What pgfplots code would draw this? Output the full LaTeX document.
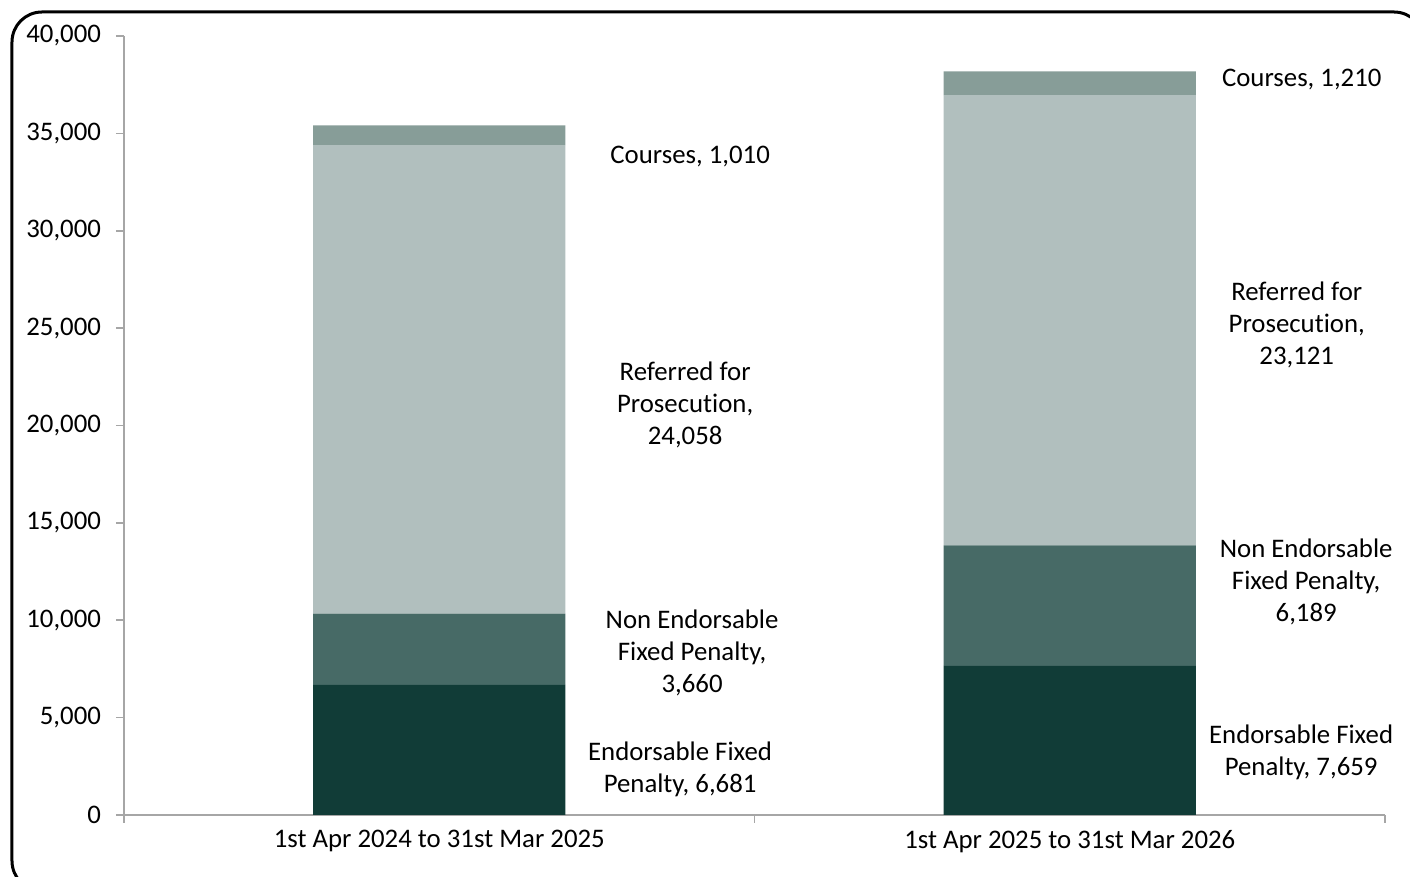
\documentclass[border=0pt]{standalone}
\usepackage{fontspec}
\setmainfont{Carlito}[Ligatures=NoCommon]
\usepackage{pgfplots}
\pgfplotsset{compat=1.18}

\definecolor{endorse}{HTML}{113C37}
\definecolor{nonendorse}{HTML}{476A66}
\definecolor{referred}{HTML}{B1BFBE}
\definecolor{courses}{HTML}{879D98}
\definecolor{axisgray}{HTML}{A6A6A6}

\begin{document}
\begin{tikzpicture}[font=\fontsize{13.4}{16}\selectfont]
  % page = 1410 x 877 px at 0.5pt per px, axis box lower-left at px (124,815)
  \useasboundingbox (-62pt,-31pt) rectangle (643pt,407.5pt);
  \draw[line width=1.5pt, rounded corners=15pt] (-56pt,-38pt) rectangle (650pt,401.5pt);
  \begin{axis}[
      at={(0pt,0pt)}, anchor=south west,
      scale only axis, width=630.5pt, height=389.5pt,
      ybar stacked, bar width=0.4,
      xmin=-0.5, xmax=1.5, ymin=0, ymax=40000,
      axis x line=bottom, axis y line=left,
      axis line style={-, draw=axisgray, line width=0.8pt},
      tick style={draw=axisgray, line width=0.8pt},
      tick align=outside, major tick length=4pt,
      xtick={-0.5,0.5,1.5}, xticklabels={},
      extra x ticks={0,1},
      extra x tick labels={1st Apr 2024 to 31st Mar 2025, 1st Apr 2025 to 31st Mar 2026},
      extra x tick style={major tick length=0pt, xticklabel style={yshift=-4pt}},
      ytick={0,5000,...,40000},
      scaled y ticks=false,
      yticklabel style={/pgf/number format/fixed, /pgf/number format/1000 sep={,}, xshift=-4pt},
      /pgf/number format/assume math mode=true,
      ticklabel style={font=\fontsize{13.4}{16}\selectfont},
      clip=false,
    ]
    % Endorsable Fixed Penalty
    \addplot[fill=endorse, draw=none] coordinates {(0,6681) (1,7659)};
    % Non Endorsable Fixed Penalty
    \addplot[fill=nonendorse, draw=none] coordinates {(0,3660) (1,6189)};
    % Referred for Prosecution
    \addplot[fill=referred, draw=none] coordinates {(0,24058) (1,23121)};
    % Courses
    \addplot[fill=courses, draw=none] coordinates {(0,1010) (1,1210)};

    \node[align=center] at (axis cs:0.398,33787) {Courses, 1,010};
    \node[align=center] at (axis cs:0.390,21053) {Referred for\\Prosecution,\\24,058};
    \node[align=center] at (axis cs:0.401,8318) {Non Endorsable\\Fixed Penalty,\\3,660};
    \node[align=center] at (axis cs:0.382,2362) {Endorsable Fixed\\Penalty, 6,681};
    \node[align=center] at (axis cs:1.368,37741) {Courses, 1,210};
    \node[align=center] at (axis cs:1.360,25160) {Referred for\\Prosecution,\\23,121};
    \node[align=center] at (axis cs:1.375,11964) {Non Endorsable\\Fixed Penalty,\\6,189};
    \node[align=center] at (axis cs:1.367,3235) {Endorsable Fixed\\Penalty, 7,659};
  \end{axis}
\end{tikzpicture}
\end{document}
